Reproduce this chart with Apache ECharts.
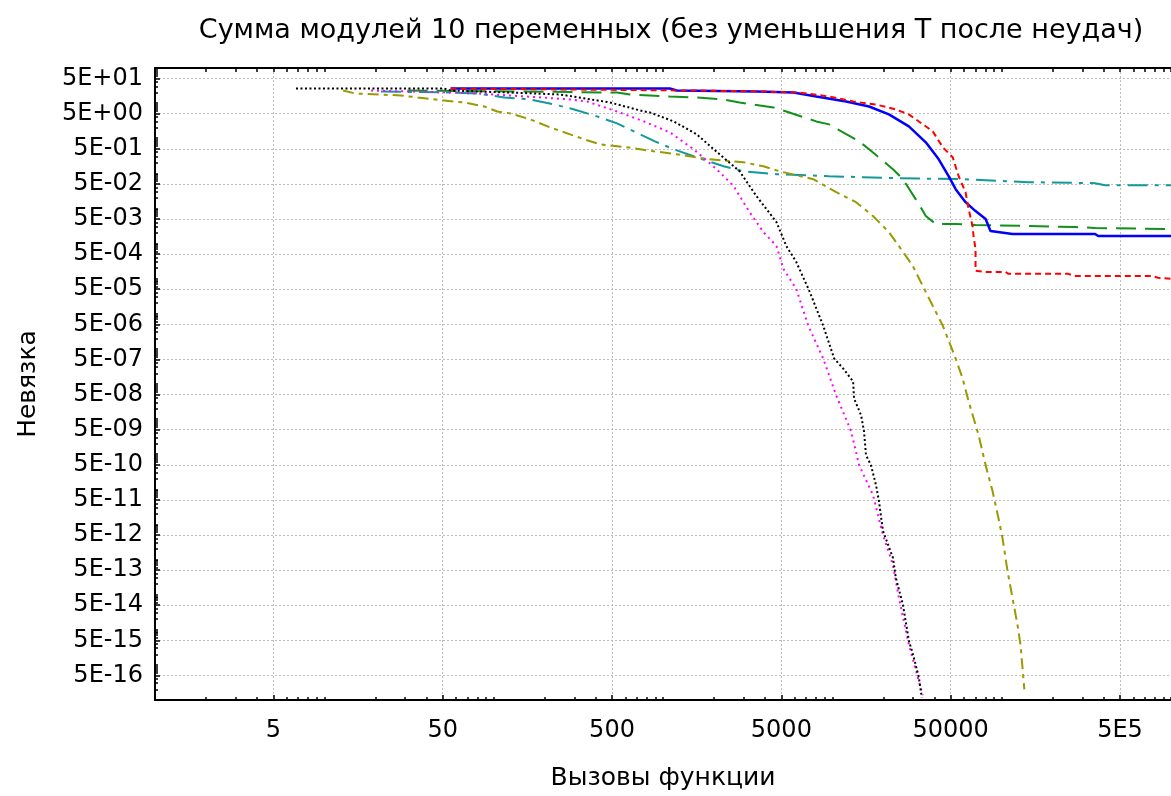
<!DOCTYPE html>
<html><head><meta charset="utf-8">
<script src="https://cdn.jsdelivr.net/npm/echarts@6/dist/echarts.min.js"></script>
<style>html,body{margin:0;padding:0;background:#fff}#c{width:1171px;height:796px}</style>
</head><body><div id="c"></div>
<script>
// ---------- texts ----------
const titleText = 'Сумма модулей 10 переменных (без уменьшения Т после неудач)';
const xName = 'Вызовы функции';
const yName = 'Невязка';

// ---------- axes ----------
const xRange = [1, 1e6];
const yRange = [1e-16, 100];
const xTickValues = [5, 50, 500, 5000, 50000, 500000];
const xTickLabels = ['5', '50', '500', '5000', '50000', '5E5'];
const yTickValues = [50, 5, 0.5, 5e-2, 5e-3, 5e-4, 5e-5, 5e-6, 5e-7, 5e-8, 5e-9, 5e-10, 5e-11, 5e-12, 5e-13, 5e-14, 5e-15, 5e-16];
const yTickLabels = ['5E+01', '5E+00', '5E-01', '5E-02', '5E-03', '5E-04', '5E-05', '5E-06', '5E-07', '5E-08', '5E-09', '5E-10', '5E-11', '5E-12', '5E-13', '5E-14', '5E-15', '5E-16'];
const minorMultipliers = [1, 2, 3, 4, 6, 7, 8, 9];

// ---------- series (x = function calls, y = residual) ----------
const seriesGreen = [[31,22.8],[144,21.4],[535,20],[638,17.6],[1097,15.4],[1581,14.5],[2280,12.7],[2831,10.4],[4487,7.52],[5346,5.79],[8040,3.01],[9570,2.48],[14390,0.815],[16480,0.483],[22800,0.131],[26120,0.0681],[32430,0.0133],[35640,0.00607],[40800,0.0036],[53500,0.0036],[70100,0.00337],[143800,0.00316],[271600,0.00296],[356500,0.00277],[1e6,0.0026]];
const seriesTeal = [[21.6,21.4],[55.7,20],[80,18.8],[116,14.5],[165,12.7],[228,9.14],[299,6.59],[408,4.18],[535,2.64],[673,1.57],[895,0.815],[1158,0.483],[1581,0.286],[2280,0.159],[2985,0.115],[4677,0.0944],[9570,0.0828],[23710,0.0727],[58800,0.0681],[143800,0.056],[356500,0.0524],[408000,0.046],[1e6,0.046]];
const seriesOlive = [[12.9,22.8],[15.2,18.8],[28.3,16.5],[35.6,14.5],[51,11.9],[67,10.4],[88,8.02],[105,5.79],[126,5.08],[165,3.43],[216,2.03],[283,1.29],[342,0.929],[425,0.67],[612,0.551],[883,0.424],[1206,0.349],[1884,0.251],[2985,0.207],[3917,0.159],[4866,0.115],[7710,0.0681],[10540,0.0291],[13800,0.0151],[17380,0.00607],[21580,0.00213],[27160,4.45e-4],[29850,2.31e-4],[38100,2.2e-5],[44900,4.59e-6],[53500,5.31e-7],[58800,1.44e-7],[63800,3.2e-8],[73100,3.47e-9],[80400,4.89e-10],[88300,8.93e-11],[95700,1.53e-11],[101100,4.14e-12],[108200,4.8e-13],[115800,8.2e-14],[123900,1.41e-14],[129100,3.8e-15],[134300,4.4e-16],[136100,2.0e-16]];
const seriesBlue = [[55.7,26],[1097,26],[1206,22.8],[3565,21.4],[5885,20],[8040,15.4],[12060,11.1],[16480,8.02],[21580,4.76],[28310,2.17],[35640,0.764],[42500,0.251],[48600,0.0828],[53500,0.0354],[61200,0.0151],[70100,0.00841],[80400,0.00499],[85900,0.00228],[115800,0.00187],[356500,0.00187],[371400,0.00164],[1e6,0.00164]];
const seriesRed = [[55.7,26],[1581,22.8],[3917,21.4],[6380,20],[9570,15.4],[13270,11.1],[18110,9.14],[23710,6.59],[28310,4.76],[39170,1.57],[44900,0.551],[51400,0.286],[55700,0.0828],[61200,0.0291],[63800,0.00959],[67300,0.00316],[68200,0.00164],[70100,7.0e-4],[70100,1.67e-4],[80400,1.56e-4],[105400,1.56e-4],[109600,1.37e-4],[247000,1.37e-4],[271600,1.2e-4],[770900,1.2e-4],[837500,1.06e-4],[1e6,9.9e-5]];
const seriesMagenta = [[18.9,22.8],[55.7,20],[80,18.8],[158,15.4],[283,12.7],[356,11.1],[535,5.79],[771,3.01],[1097,1.47],[1518,0.483],[2074,0.131],[2612,0.0431],[3243,0.00787],[3917,0.00213],[4677,8.55e-4],[5142,1.9e-4],[6120,5.15e-5],[7210,4.59e-6],[8830,5.31e-7],[10540,4.73e-8],[12910,4.51e-9],[14390,4.89e-10],[17380,6.89e-11],[19910,5.04e-12],[22800,7.1e-13],[24710,8.2e-14],[28310,3.8e-15],[34200,1.36e-16]];
const seriesBlack = [[6.8,26],[51,26],[55.7,22.8],[126,20],[247,17.6],[487,10.4],[771,5.79],[837,5.42],[1158,3.01],[1581,1.29],[2158,0.349],[2831,0.115],[3565,0.0224],[4677,0.0041],[5346,8.55e-4],[6120,3.01e-4],[7310,4.51e-5],[8830,4.59e-6],[10250,5.31e-7],[11590,2.76e-7],[13270,1.18e-7],[13430,3.89e-8],[14790,1.28e-8],[15380,4.51e-9],[15810,9.4e-10],[16900,4.89e-10],[18110,1.32e-10],[18840,4.65e-11],[19910,6.55e-12],[22800,1.12e-12],[23710,3.03e-13],[26120,5.19e-14],[28310,4.94e-15],[30270,1.63e-15],[32430,4.4e-16],[33740,1.19e-16]];

// ---------- helpers ----------
// axes work in log10(v/5) so that the 5*10^n ticks fall on whole numbers
const toU = v => Math.log10(v / 5);
function minorTicks(range) {
  const out = [];
  const n0 = Math.floor(Math.log10(range[0])), n1 = Math.ceil(Math.log10(range[1]));
  for (let n = n0; n <= n1; n++) {
    for (const k of minorMultipliers) {
      const v = k * Math.pow(10, n);
      if (v >= range[0] * 0.999 && v <= range[1] * 1.001) out.push(v);
    }
  }
  return out;
}
function labelFor(values, labels, u) {
  for (let i = 0; i < values.length; i++) if (Math.abs(toU(values[i]) - u) < 1e-6) return labels[i];
  return '';
}
const FONT = 'DejaVu Sans';
const xMin = toU(xRange[0]), xMax = toU(xRange[1]);
const yMin = toU(yRange[0]), yMax = toU(yRange[1]);
const xMinorU = minorTicks(xRange).map(toU);
const yMinorU = minorTicks(yRange).map(toU);
const xMajorU = xTickValues.map(toU);
const yMajorU = yTickValues.map(toU);
const gridLine = { show: true, lineStyle: { color: '#bcbcbc', width: 1, type: [2, 2] } };

function mk(data, color, width, type, z) {
  return {
    type: 'line', data: data.map(p => [toU(p[0]), toU(p[1])]),
    showSymbol: false, symbol: 'none', silent: true, animation: false, z: z,
    lineStyle: { color: color, width: width, type: type, cap: 'butt' }
  };
}

const chart = echarts.init(document.getElementById('c'), null, { renderer: 'canvas' });
chart.setOption({
  backgroundColor: '#fff',
  animation: false,
  title: {
    text: titleText, left: 671, top: 17, padding: 0, textAlign: 'center',
    textStyle: { fontFamily: FONT, fontSize: 27, fontWeight: 'normal', color: '#000' }
  },
  grid: { left: 155, top: 68, width: 1021, height: 635, containLabel: false },
  xAxis: [
    {
      type: 'value', position: 'bottom', min: xMin, max: xMax,
      name: xName, nameLocation: 'middle', nameGap: 66,
      nameTextStyle: { fontFamily: FONT, fontSize: 25, color: '#000' },
      axisLine: { show: true, onZero: false, lineStyle: { color: '#000', width: 2 } },
      axisTick: { show: true, inside: true, length: 5, customValues: xMajorU, lineStyle: { color: '#000', width: 1.5 } },
      axisLabel: { show: true, customValues: xMajorU, margin: 19, fontFamily: FONT, fontSize: 24, color: '#000',
        formatter: v => labelFor(xTickValues, xTickLabels, v) },
      splitLine: gridLine
    },
    {
      type: 'value', position: 'bottom', min: xMin, max: xMax,
      axisLine: { show: false, onZero: false },
      axisTick: { show: true, inside: true, length: 3, customValues: xMinorU, lineStyle: { color: '#000', width: 1.5 } },
      axisLabel: { show: false }, splitLine: { show: false }
    },
    {
      type: 'value', position: 'top', min: xMin, max: xMax,
      axisLine: { show: true, onZero: false, lineStyle: { color: '#000', width: 2 } },
      axisTick: { show: true, inside: true, length: 4, customValues: xMinorU.concat(xMajorU), lineStyle: { color: '#000', width: 1.5 } },
      axisLabel: { show: false }, splitLine: { show: false }
    }
  ],
  yAxis: [
    {
      type: 'value', position: 'left', min: yMin, max: yMax,
      name: yName, nameLocation: 'middle', nameGap: 114, nameRotate: 90,
      nameTextStyle: { fontFamily: FONT, fontSize: 25, color: '#000' },
      axisLine: { show: true, onZero: false, lineStyle: { color: '#000', width: 2 } },
      axisTick: { show: true, inside: true, length: 5, customValues: yMajorU, lineStyle: { color: '#000', width: 1.5 } },
      axisLabel: { show: true, customValues: yMajorU, margin: 12, fontFamily: FONT, fontSize: 24, color: '#000',
        formatter: v => labelFor(yTickValues, yTickLabels, v) },
      splitLine: gridLine
    },
    {
      type: 'value', position: 'left', min: yMin, max: yMax,
      axisLine: { show: false, onZero: false },
      axisTick: { show: true, inside: true, length: 3, customValues: yMinorU, lineStyle: { color: '#000', width: 1.5 } },
      axisLabel: { show: false }, splitLine: { show: false }
    }
  ],
  series: [
    mk(seriesGreen, '#11911a', 2, [20, 9], 2),
    mk(seriesTeal, '#139999', 2, [20, 7, 4, 7], 3),
    mk(seriesOlive, '#999900', 2, [11, 5, 4, 5], 4),
    mk(seriesBlue, '#0000ff', 2.5, 'solid', 5),
    mk(seriesRed, '#ff0000', 2, [6, 4], 6),
    mk(seriesMagenta, '#ff00ff', 2, [2, 4], 7),
    mk(seriesBlack, '#000000', 2, [2, 2.5], 8)
  ]
});
</script></body></html>
